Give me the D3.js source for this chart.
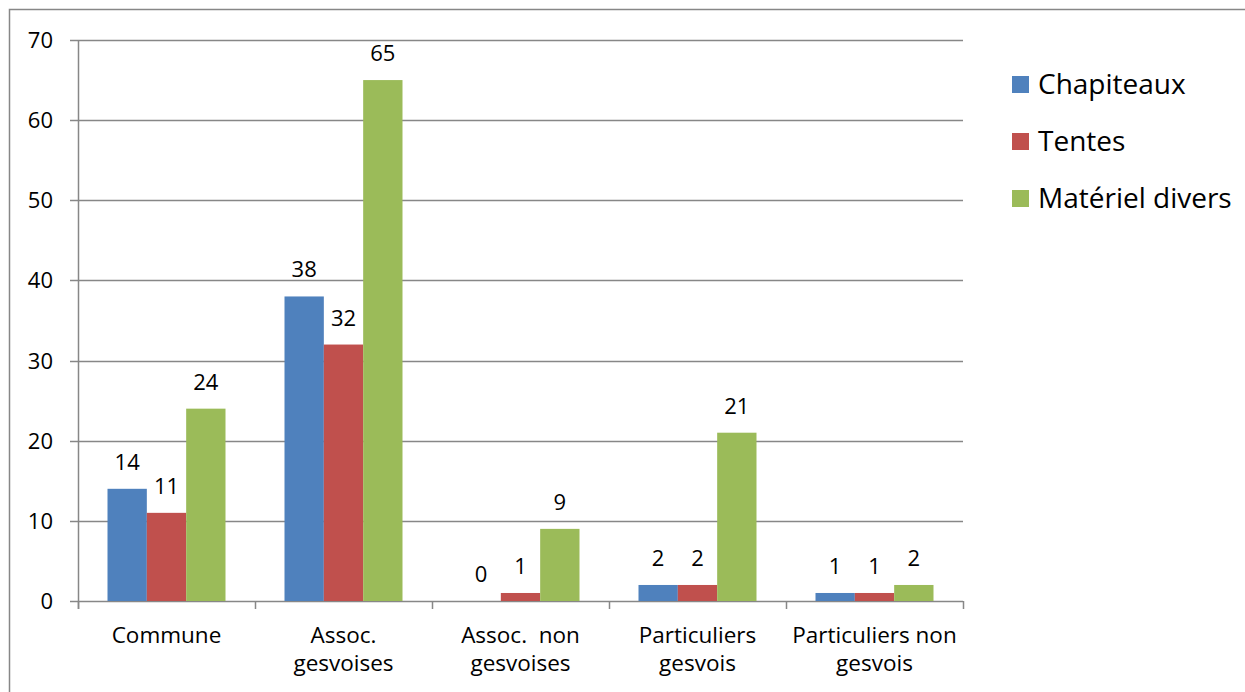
<!DOCTYPE html>
<html><head><meta charset="utf-8">
<script src="https://cdn.jsdelivr.net/npm/d3@7"></script>
<style>
body{margin:0;background:#fff;}
svg{display:block;font-family:"Open Sans",Lato,sans-serif;}
</style></head>
<body><svg id="c" width="1245" height="692"></svg>
<script>
const categories = [["Commune"],["Assoc.","gesvoises"],["Assoc.  non","gesvoises"],["Particuliers","gesvois"],["Particuliers non","gesvois"]];
const seriesNames = ["Chapiteaux","Tentes","Matériel divers"];
const chapiteaux = [14,38,0,2,1];
const tentes = [11,32,1,2,1];
const materiel = [24,65,9,21,2];
const yTicks = [0,10,20,30,40,50,60,70];
const colors = ["#4F81BD","#C0504D","#9BBB59"];
const series = [chapiteaux, tentes, materiel];

const svg = d3.select("#c");
const pLeft = 78, pRight = 963, pTop = 40, pBottom = 601;

// outer border
svg.append("path").attr("d","M9.5,692 V9.5 H1245").attr("fill","none").attr("stroke","#878787").attr("stroke-width",1.5);

const y = d3.scaleLinear().domain([0,70]).range([pBottom, pTop]);
const x0 = d3.scaleBand().domain(d3.range(categories.length)).range([pLeft,pRight]).paddingInner(0).paddingOuter(0);
const bw = x0.bandwidth()/4.5;

// gridlines
svg.append("g").selectAll("line").data(yTicks).join("line")
  .attr("x1",pLeft-8).attr("x2",pRight).attr("y1",d=>Math.round(y(d))+0.5).attr("y2",d=>Math.round(y(d))+0.5)
  .attr("stroke","#878787").attr("stroke-width",1.5);

// y axis line
svg.append("line").attr("x1",pLeft+0.5).attr("x2",pLeft+0.5).attr("y1",pTop).attr("y2",pBottom+8)
  .attr("stroke","#878787").attr("stroke-width",1.5);

// category ticks
svg.append("g").selectAll("line").data(d3.range(categories.length+1)).join("line")
  .attr("x1",d=>pLeft+d*x0.bandwidth()+0.5).attr("x2",d=>pLeft+d*x0.bandwidth()+0.5)
  .attr("y1",pBottom).attr("y2",pBottom+8).attr("stroke","#878787").attr("stroke-width",1.5);

// y labels
svg.append("g").selectAll("text").data(yTicks).join("text")
  .attr("x",53).attr("y",d=>y(d)+8).attr("text-anchor","end")
  .attr("font-size",22).attr("fill","#000").text(d=>d);

// bars
series.forEach((vals,si)=>{
  const g = svg.append("g");
  g.selectAll("rect").data(vals).join("rect")
    .attr("x",(d,i)=>x0(i)+bw*0.75+si*bw).attr("width",bw)
    .attr("y",d=>y(d)).attr("height",d=>pBottom-y(d)).attr("fill",colors[si]);
  g.selectAll("text").data(vals).join("text")
    .attr("x",(d,i)=>x0(i)+bw*0.75+si*bw+bw/2).attr("y",d=>y(d)-19)
    .attr("text-anchor","middle").attr("font-size",22).attr("fill","#000").text(d=>d);
});

// category labels
const cl = svg.append("g");
categories.forEach((lines,i)=>{
  const t = cl.append("text").attr("text-anchor","middle").attr("font-size",22.5).attr("fill","#000")
    .attr("x",x0(i)+x0.bandwidth()/2).style("white-space","pre");
  lines.forEach((ln,k)=>t.append("tspan").attr("x",x0(i)+x0.bandwidth()/2).attr("y",643+k*28).text(ln));
});

// legend
const lg = svg.append("g");
seriesNames.forEach((n,i)=>{
  lg.append("rect").attr("x",1012).attr("y",76+i*57).attr("width",17).attr("height",17).attr("fill",colors[i]);
  lg.append("text").attr("x",1038).attr("y",94+i*57).attr("font-size",28).attr("fill","#000").text(n);
});
</script></body></html>
